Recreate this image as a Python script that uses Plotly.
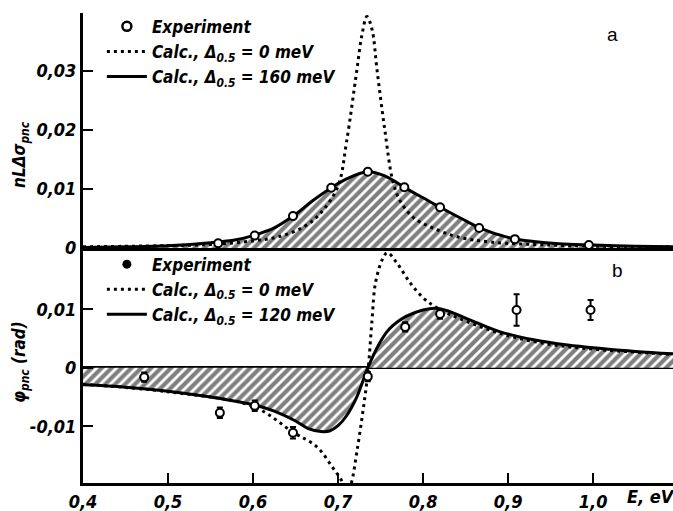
import plotly.graph_objects as go
from plotly.subplots import make_subplots

# ---------------- Panel (a) data ----------------
exp_a_x = [0.559, 0.602, 0.647, 0.692, 0.735, 0.778, 0.820, 0.866, 0.908, 0.995]
exp_a_y = [0.0008, 0.0021, 0.0054, 0.0102, 0.0129, 0.0103, 0.0069, 0.0034, 0.0015, 0.0005]

calc160_x = [0.40, 0.45, 0.50, 0.55, 0.58, 0.60, 0.625, 0.65, 0.67, 0.69, 0.71, 0.735,
             0.755, 0.78, 0.80, 0.82, 0.845, 0.87, 0.90, 0.93, 0.96, 1.00, 1.05, 1.094]
calc160_y = [0.0001, 0.0002, 0.0004, 0.0009, 0.0014, 0.0021, 0.0034, 0.0057, 0.0080, 0.0100,
             0.0117, 0.0129, 0.0122, 0.0101, 0.0085, 0.0069, 0.0050, 0.0032, 0.0018, 0.0011,
             0.0007, 0.0005, 0.0003, 0.0002]

calc0a_x = [0.40, 0.50, 0.55, 0.60, 0.63, 0.66, 0.68, 0.70, 0.71, 0.722, 0.728, 0.734,
            0.740, 0.746, 0.755, 0.765, 0.775, 0.79, 0.81, 0.84, 0.88, 0.95, 1.00, 1.094]
calc0a_y = [0.0002, 0.0004, 0.0006, 0.0012, 0.0019, 0.0036, 0.0060, 0.0105, 0.0180, 0.0300,
            0.0360, 0.0392, 0.0370, 0.0300, 0.0200, 0.0110, 0.0075, 0.0050, 0.0035, 0.0019,
            0.0010, 0.0005, 0.0003, 0.0002]

# ---------------- Panel (b) data ----------------
exp_b_x = [0.472, 0.561, 0.602, 0.647, 0.735, 0.779, 0.820, 0.910, 0.997]
exp_b_y = [-0.0016, -0.0077, -0.0065, -0.0111, -0.0015, 0.0070, 0.0092, 0.0099, 0.0099]
exp_b_err = [0.0008, 0.0009, 0.0009, 0.0010, 0.0008, 0.0008, 0.0008, 0.0027, 0.0017]

calc120_x = [0.40, 0.45, 0.50, 0.55, 0.60, 0.625, 0.65, 0.665, 0.68, 0.69, 0.70, 0.71,
             0.722, 0.735, 0.748, 0.76, 0.78, 0.80, 0.815, 0.83, 0.85,
             0.87, 0.89, 0.93, 0.97, 1.01, 1.05, 1.094]
calc120_y = [-0.0029, -0.0033, -0.0040, -0.0050, -0.0063, -0.0074, -0.0091, -0.0104,
             -0.0109, -0.0108, -0.0099, -0.0082, -0.0050, 0.0000, 0.0040, 0.0066,
             0.0088, 0.0099, 0.0102, 0.0097, 0.0085, 0.0073, 0.0062,
             0.0048, 0.0039, 0.0033, 0.0028, 0.0024]

calc0b_x = [0.40, 0.50, 0.60, 0.647, 0.675, 0.693, 0.705, 0.711, 0.716, 0.722, 0.729,
            0.735, 0.740, 0.744, 0.752, 0.758, 0.769, 0.785, 0.80, 0.816, 0.85, 0.90,
            0.95, 1.00, 1.094]
calc0b_y = [-0.0028, -0.0041, -0.0066, -0.0110, -0.0135, -0.0169, -0.0195, -0.0215,
            -0.0195, -0.0145, -0.0077, -0.0009, 0.0082, 0.0145, 0.0185, 0.0197, 0.0180,
            0.0145, 0.0120, 0.0103, 0.0080, 0.0055, 0.0040, 0.0032, 0.0023]

x_ticks = [0.4, 0.5, 0.6, 0.7, 0.8, 0.9, 1.0]
x_tick_text = ["0,4", "0,5", "0,6", "0,7", "0,8", "0,9", "1,0"]
ya_ticks = [0, 0.01, 0.02, 0.03]
ya_tick_text = ["0", "0,01", "0,02", "0,03"]
yb_ticks = [-0.01, 0, 0.01]
yb_tick_text = ["-0,01", "0", "0,01"]

FONT = "DejaVu Sans Condensed, Liberation Sans Narrow, DejaVu Sans, sans-serif"
lab_font = dict(family=FONT, size=18, color="black", style="italic", weight="bold")
leg_font = dict(family=FONT, size=17, color="black", style="italic", weight="bold")
title_font = dict(family=FONT, size=17, color="black", style="italic", weight="bold")

fig = make_subplots(rows=2, cols=1, shared_xaxes=False, vertical_spacing=0.0)

hatch = dict(shape="/", fgcolor="black", bgcolor="white", size=7, solidity=0.6)

# Panel a
fig.add_trace(go.Scatter(x=calc160_x, y=calc160_y, mode="lines", line=dict(color="black", width=0, shape="spline"),
                         fill="tozeroy", fillpattern=hatch, fillcolor="white", showlegend=False,
                         hoverinfo="skip"), row=1, col=1)
fig.add_trace(go.Scatter(x=[None], y=[None], mode="markers", name="Experiment",
                         marker=dict(symbol="circle-open", size=9, color="black", line=dict(width=2.5)),
                         legend="legend"), row=1, col=1)
fig.add_trace(go.Scatter(x=calc0a_x, y=calc0a_y, mode="lines", name="Calc., Δ<sub>0.5</sub> = 0 meV",
                         line=dict(color="black", width=3, dash="3px,4px", shape="spline"),
                         legend="legend"), row=1, col=1)
fig.add_trace(go.Scatter(x=calc160_x, y=calc160_y, mode="lines", name="Calc., Δ<sub>0.5</sub> = 160 meV",
                         line=dict(color="black", width=3, shape="spline"), legend="legend"), row=1, col=1)
fig.add_trace(go.Scatter(x=exp_a_x, y=exp_a_y, mode="markers", showlegend=False,
                         marker=dict(symbol="circle", size=8, color="white", line=dict(color="black", width=2))),
              row=1, col=1)

# Panel b
fig.add_trace(go.Scatter(x=calc120_x, y=calc120_y, mode="lines", line=dict(color="black", width=0, shape="spline"),
                         fill="tozeroy", fillpattern=hatch, fillcolor="white", showlegend=False,
                         hoverinfo="skip"), row=2, col=1)
fig.add_trace(go.Scatter(x=[None], y=[None], mode="markers", name="Experiment",
                         marker=dict(symbol="circle", size=9, color="black"), legend="legend2"), row=2, col=1)
fig.add_trace(go.Scatter(x=calc0b_x, y=calc0b_y, mode="lines", name="Calc., Δ<sub>0.5</sub> = 0 meV",
                         line=dict(color="black", width=3, dash="3px,4px", shape="spline"),
                         legend="legend2"), row=2, col=1)
fig.add_trace(go.Scatter(x=calc120_x, y=calc120_y, mode="lines", name="Calc., Δ<sub>0.5</sub> = 120 meV",
                         line=dict(color="black", width=3, shape="spline"), legend="legend2"), row=2, col=1)
fig.add_trace(go.Scatter(x=exp_b_x, y=exp_b_y, mode="markers", showlegend=False,
                         error_y=dict(type="data", array=exp_b_err, color="black", thickness=2, width=3),
                         marker=dict(symbol="circle", size=8, color="white", line=dict(color="black", width=2))),
              row=2, col=1)

axis_common = dict(showgrid=False, showline=True, linecolor="black", linewidth=3, ticks="inside",
                   tickcolor="black", tickwidth=2, ticklen=10, tickfont=lab_font)

fig.update_xaxes(range=[0.4, 1.094], **axis_common)
fig.update_xaxes(row=1, col=1, showticklabels=False, ticks="", tickvals=x_ticks, zeroline=False)
fig.update_xaxes(row=2, col=1, tickvals=x_ticks, ticktext=x_tick_text, zeroline=False)
fig.update_yaxes(**axis_common)
fig.update_yaxes(row=1, col=1, range=[0, 0.0398], tickvals=ya_ticks, ticktext=ya_tick_text, zeroline=False,
                 domain=[0.5, 1.0])
fig.update_yaxes(row=2, col=1, range=[-0.0197, 0.0205], tickvals=yb_ticks, ticktext=yb_tick_text,
                 zeroline=True, zerolinecolor="black", zerolinewidth=3, domain=[0.0, 0.5])


def px_x(p):
    return (p - 83) / 590


def px_y(p):
    return (483 - p) / 470


fig.update_layout(
    width=673, height=511,
    margin=dict(l=83, r=0, t=13, b=28),
    paper_bgcolor="white", plot_bgcolor="white",
    legend=dict(x=0.032, y=1.009, xanchor="left", yanchor="top", font=leg_font, bgcolor="rgba(0,0,0,0)",
                itemwidth=40, tracegroupgap=0),
    legend2=dict(x=0.032, y=0.503, xanchor="left", yanchor="top", font=leg_font, bgcolor="rgba(0,0,0,0)",
                 itemwidth=40, tracegroupgap=0),
    annotations=[
        dict(text="a", xref="paper", yref="paper", x=px_x(612), y=px_y(35), xanchor="center", yanchor="middle",
             showarrow=False, font=dict(family="Liberation Sans, Arial", size=19, color="black")),
        dict(text="b", xref="paper", yref="paper", x=px_x(617), y=px_y(270), xanchor="center", yanchor="middle",
             showarrow=False, font=dict(family="Liberation Sans, Arial", size=19, color="black")),
        dict(text="E, eV", xref="paper", yref="paper", x=px_x(651), y=px_y(496), xanchor="center",
             yanchor="middle", showarrow=False, font=lab_font),
        dict(text="nLΔσ<sub>pnc</sub>", xref="paper", yref="paper", x=px_x(20), y=px_y(155),
             xanchor="center", yanchor="middle", showarrow=False, textangle=-90, font=title_font),
        dict(text="φ<sub>pnc</sub> (rad)", xref="paper", yref="paper", x=px_x(20), y=px_y(362),
             xanchor="center", yanchor="middle", showarrow=False, textangle=-90, font=title_font),
    ],
)

fig.write_html("out.html", config={"displayModeBar": False},
               post_script="document.body.style.margin='0';document.body.style.overflow='hidden';")
